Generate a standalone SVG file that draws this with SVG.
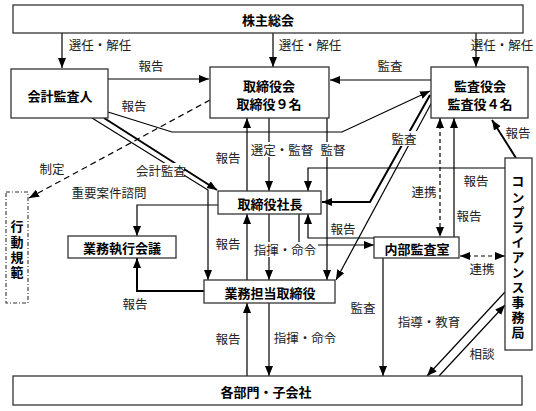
<svg xmlns="http://www.w3.org/2000/svg" width="536" height="411" viewBox="0 0 536 411">
<defs>
<marker id="a" markerUnits="userSpaceOnUse" markerWidth="11" markerHeight="9" refX="10" refY="4" orient="auto-start-reverse" viewBox="0 0 11 9">
<path d="M0,0 L10,4 L0,8 z" fill="#000"/>
</marker>
<style>
.box{fill:#fff;stroke:#333;stroke-width:1.3}
.dd{fill:#fff;stroke:#333;stroke-width:1.1;stroke-dasharray:4 2 1 2}
.bt{font-family:"Noto Sans CJK JP","Noto Sans",sans-serif;font-size:13px;font-weight:bold;fill:#000;text-anchor:middle;dominant-baseline:central}
.vt{font-family:"Noto Sans CJK JP","Noto Sans",sans-serif;font-size:13px;font-weight:bold;fill:#000;writing-mode:vertical-rl;text-orientation:upright;text-anchor:start}
.lt{font-family:"Noto Sans CJK JP","Noto Sans",sans-serif;font-size:12.5px;fill:#222;text-anchor:middle;dominant-baseline:central}
.c{fill:none;stroke:#000;stroke-width:1.2}
.k{fill:none;stroke:#000;stroke-width:2}
.d{fill:none;stroke:#000;stroke-width:1.2;stroke-dasharray:6 4}
.ds{fill:none;stroke:#000;stroke-width:1.2;stroke-dasharray:4 3}
.e{marker-end:url(#a)}
.s{marker-start:url(#a)}
.bg{fill:#fff}
</style>
</defs>
<rect width="536" height="411" fill="#fff"/>

<g id="connectors">
<path class="c e" d="M62,33 V68"/>
<path class="c e" d="M273,33 V67"/>
<path class="c e" d="M476,33 V67"/>
<path class="c e" d="M108,79 H209"/>
<path class="c e" d="M108,112 L172,132 H342 L430,91"/>
<path class="c e" d="M431,80 H330"/>
<path class="d e" d="M210,100 L29,198"/>
<path class="c e" d="M92,118 L208,190 V280"/>
<path class="c e" d="M218,205 H137 V236"/>
<path class="k e" d="M204,291 H137 V258"/>
<path class="c e" d="M247,191 V118"/>
<path class="c e" d="M269,118 V191"/>
<path class="c e" d="M327,118 V280"/>
<path class="c e" d="M505,168 H308 V191"/>
<path class="k e" d="M430,95 L370,202 H322"/>
<path class="c e" d="M432,102 L336,280"/>
<path class="ds e s" d="M440,118 V237"/>
<path class="c e" d="M454,237 V118"/>
<path class="k e" d="M516,158 L492,120"/>
<path class="c e" d="M299,214 V245 H374"/>
<path class="c e" d="M374,238 H308 V214"/>
<path class="c e" d="M247,280 V214"/>
<path class="c e" d="M269,214 V280"/>
<path class="c e" d="M383,258 V376"/>
<path class="ds e s" d="M460,256 H505"/>
<path class="c e" d="M269,303 V376"/>
<path class="c e" d="M247,376 V303"/>
<path class="c e" d="M505,292 L427,376"/>
<path class="c e" d="M439,376 L505,305"/>
<path class="k e" d="M104,118 L217,190"/>

<rect class="bg" x="250" y="142" width="66" height="15"/>
<rect class="bg" x="319" y="142" width="28" height="15"/>
<rect class="bg" x="391" y="131" width="26" height="15"/>
<rect class="bg" x="137" y="163" width="47" height="15"/>
<rect class="bg" x="252" y="242" width="66" height="15"/>

<text class="lt" x="100" y="44">選任・解任</text>
<text class="lt" x="310" y="44">選任・解任</text>
<text class="lt" x="502" y="44">選任・解任</text>
<text class="lt" x="151" y="65">報告</text>
<text class="lt" x="134" y="105">報告</text>
<text class="lt" x="390" y="65">監査</text>
<text class="lt" x="52" y="168">制定</text>
<text class="lt" x="161" y="170">会計監査</text>
<text class="lt" x="109" y="192">重要案件諮問</text>
<text class="lt" x="228" y="157">報告</text>
<text class="lt" x="282" y="149">選定・監督</text>
<text class="lt" x="333" y="149">監督</text>
<text class="lt" x="404" y="138">監査</text>
<text class="lt" x="518" y="132">報告</text>
<text class="lt" x="476" y="180">報告</text>
<text class="lt" x="424" y="191">連携</text>
<text class="lt" x="469" y="215">報告</text>
<text class="lt" x="343" y="228">報告</text>
<text class="lt" x="228" y="243">報告</text>
<text class="lt" x="285" y="249">指揮・命令</text>
<text class="lt" x="135" y="303">報告</text>
<text class="lt" x="228" y="338">報告</text>
<text class="lt" x="305" y="337">指揮・命令</text>
<text class="lt" x="363" y="307">監査</text>
<text class="lt" x="429" y="321">指導・教育</text>
<text class="lt" x="482" y="353">相談</text>
<text class="lt" x="482" y="268">連携</text>
</g>

<g id="shareholders">
<rect class="box" x="13" y="5" width="510" height="28"/>
<text class="bt" x="268" y="19">株主総会</text>
</g>
<g id="auditor">
<rect class="box" x="11" y="69" width="97" height="49"/>
<text class="bt" x="60" y="95">会計監査人</text>
</g>
<g id="board">
<rect class="box" x="210" y="67" width="119" height="51"/>
<text class="bt" x="269" y="85">取締役会</text>
<text class="bt" x="269" y="103.5">取締役９名</text>
</g>
<g id="audit-board">
<rect class="box" x="431" y="67" width="97" height="51"/>
<text class="bt" x="480" y="85">監査役会</text>
<text class="bt" x="480" y="103.5">監査役４名</text>
</g>
<g id="president">
<rect class="box" x="218" y="191" width="103" height="23"/>
<text class="bt" x="270" y="203">取締役社長</text>
</g>
<g id="exec-meeting">
<rect class="box" x="68" y="236" width="108" height="22"/>
<text class="bt" x="122" y="247">業務執行会議</text>
</g>
<g id="exec-directors">
<rect class="box" x="204" y="280" width="131" height="23"/>
<text class="bt" x="270" y="292">業務担当取締役</text>
</g>
<g id="internal-audit">
<rect class="box" x="374" y="237" width="85" height="21"/>
<text class="bt" x="417" y="248">内部監査室</text>
</g>
<g id="compliance">
<rect class="box" x="505" y="158" width="27" height="192"/>
<text class="vt" x="518" y="175" letter-spacing="2.1">コンプライアンス事務局</text>
</g>
<g id="code-of-conduct">
<rect class="dd" x="6" y="192" width="22" height="111"/>
<text class="vt" x="17" y="220" letter-spacing="2.3">行動規範</text>
</g>
<g id="departments">
<rect class="box" x="13" y="376" width="509" height="29"/>
<text class="bt" x="266" y="391">各部門・子会社</text>
</g>
</svg>
